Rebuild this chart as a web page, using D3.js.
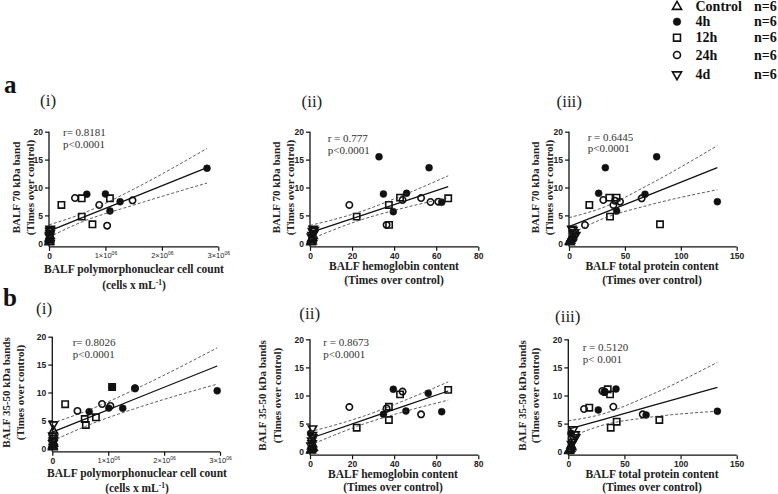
<!DOCTYPE html>
<html><head><meta charset="utf-8">
<script src="https://cdn.jsdelivr.net/npm/d3@7"></script>
<style>body{margin:0;background:#fff}</style>
</head><body>
<svg id="c" width="778" height="494"></svg>
<script>
// ---------- DATA ----------
const groups = ["Control","4h","12h","24h","4d"];
const groupN = ["n=6","n=6","n=6","n=6","n=6"];
const yTicks = [0,5,10,15,20];
const pmnTicks = [0,1e6,2e6,3e6];
const hbTicks = [0,20,40,60,80];
const protTicks = [0,50,100,150];

// points: [group, x, y]
const ptsA1 = [
 ["4h",0.67e6,8.8],["4h",1.0e6,8.85],["4h",1.26e6,7.45],["4h",1.08e6,5.8],["4h",2.8e6,13.45],
 ["12h",0.22e6,6.87],["12h",0.58e6,8.06],["12h",0.58e6,4.78],["12h",0.77e6,3.4],["12h",1.08e6,8.06],
 ["24h",0.46e6,8.12],["24h",0.89e6,6.87],["24h",1.03e6,3.16],["24h",1.48e6,7.7],
 ["Control",0.01e6,0.3],["Control",0.01e6,0.6],["Control",0.015e6,1.0],["Control",0.005e6,0.2],["Control",0.02e6,1.3],["Control",0.01e6,0.8],
 ["4d",0.02e6,2.6],["4d",0.015e6,2.2],["4d",0.02e6,1.8],["4d",0.01e6,1.5],["4d",0.025e6,2.4],["4d",0.01e6,1.2]
];
const ptsA2 = [
 ["4h",32.8,15.5],["4h",56.6,13.55],["4h",34.9,8.84],["4h",45.9,8.96],["4h",39.6,5.67],["4h",62.6,7.34],
 ["12h",22.2,4.78],["12h",37.5,6.87],["12h",42.8,8.18],["12h",65.7,8.06],["12h",37.6,3.3],
 ["24h",18.7,6.87],["24h",44,7.76],["24h",52.8,8.12],["24h",57.3,7.4],["24h",61,7.46],["24h",36.4,3.3],
 ["Control",1,0.3],["Control",0.8,0.6],["Control",1.2,1.0],["Control",0.5,0.2],["Control",1.5,1.3],["Control",0.9,0.8],
 ["4d",1.5,2.6],["4d",1.2,2.2],["4d",1.8,1.8],["4d",1,1.5],["4d",2,2.4],["4d",0.7,1.2]
];
const ptsA3 = [
 ["4h",32.5,13.55],["4h",78.4,15.5],["4h",26.5,8.96],["4h",68,8.78],["4h",42.6,5.8],["4h",132.7,7.46],
 ["12h",18.2,6.87],["12h",36,8.18],["12h",42.6,8.18],["12h",36.7,4.78],["12h",81.4,3.4],
 ["24h",14.3,3.28],["24h",30.7,7.76],["24h",39.7,6.87],["24h",41.2,7.64],["24h",45.6,7.46],["24h",65,8.06],
 ["Control",1,0.2],["Control",1.5,0.5],["Control",2,0.8],["Control",2.5,1.0],["Control",0.5,0.3],["Control",3,1.2],
 ["4d",4,1.7],["4d",5,2.0],["4d",3.5,2.4],["4d",6,1.5],["4d",2.5,2.6],["4d",4.5,1.3]
];
const ptsB1 = [
 ["4h",0.66e6,6.56],["4h",1.01e6,7.2],["4h",1.26e6,7.17],["4h",1.07e6,11.0],["4h",2.95e6,10.3],["4h",1.48e6,10.75],
 ["12h",0.23e6,7.9],["12h",0.58e6,5.25],["12h",0.6e6,4.18],["12h",0.78e6,5.55],["12h",1.07e6,11.0],
 ["24h",0.45e6,6.7],["24h",0.89e6,7.94],["24h",1.04e6,7.6],["24h",1.48e6,10.75],
 ["Control",0.02e6,3.1],["Control",0.01e6,0.2],["Control",0.01e6,0.5],["Control",0.02e6,0.8],["Control",0.015e6,1.1],["Control",0.01e6,0.3],
 ["4d",0.02e6,4.3],["4d",0.02e6,1.9],["4d",0.01e6,2.3],["4d",0.02e6,1.5],["4d",0.01e6,0.9],["4d",0.015e6,1.2]
];
const ptsB2 = [
 ["4h",39.6,11.1],["4h",56.2,10.4],["4h",45.6,7.24],["4h",62.6,7.12],["4h",34.9,6.65],["4h",0.3,3.26],
 ["12h",42.8,10.2],["12h",65.7,11.0],["12h",37.5,8.0],["12h",37.5,5.64],["12h",22.2,4.27],
 ["24h",18.7,7.95],["24h",44,10.7],["24h",52.8,6.65],["24h",36.4,7.7],
 ["Control",0.5,0.2],["Control",1,0.5],["Control",0.8,0.9],["Control",1.2,1.3],["Control",0.6,0.3],["Control",1.5,0.7],
 ["4d",1.2,4.15],["4d",0.8,2.0],["4d",1,1.5],["4d",1.3,2.6],["4d",0.5,1.1],["4d",1.1,3.0]
];
const ptsB3 = [
 ["4h",26.7,7.42],["4h",42.5,11.15],["4h",69.3,6.53],["4h",132.8,7.2],["4h",2.4,3.27],["4h",32.5,10.7],
 ["12h",18.7,7.83],["12h",35.1,11.1],["12h",37.2,10.2],["12h",37.8,4.27],["12h",43.1,5.34],["12h",81.1,5.64],
 ["24h",14,7.6],["24h",30.3,10.8],["24h",32.1,10.6],["24h",40.1,8.0],["24h",66.3,6.65],
 ["Control",1,0.2],["Control",2,0.5],["Control",3,0.8],["Control",1.5,0.4],["Control",2.5,1.1],["Control",0.5,0.1],
 ["4d",4.5,4.0],["4d",6,3.1],["4d",5,2.3],["4d",4,1.8],["4d",3,1.4],["4d",6.5,2.6]
];

// regression line and 95% band, read at a few x positions
const bandA1X = [0,0.6e6,1.5e6,2.8e6], fitA1 = [2.2,4.63,8.28,13.55], upA1 = [3.3,5.36,9.71,17.0], loA1 = [1.1,3.9,6.85,10.8];
const bandA2X = [0,24,45,65.7], fitA2 = [1.91,4.92,7.55,10.15], upA2 = [3.2,5.67,8.73,12.1], loA2 = [0.7,4.17,6.37,8.2];
const bandA3X = [0,30,70,132.7], fitA3 = [2.99,5.38,8.56,13.55], upA3 = [4.6,6.38,10.35,17.5], loA3 = [1.5,4.38,6.77,9.6];
const bandB1X = [0,0.65e6,1.6e6,2.95e6], fitB1 = [2.9,5.51,9.33,14.75], upB1 = [4.5,6.85,11.15,18.0], loB1 = [1.3,4.17,7.51,11.5];
const bandB2X = [0,26,45,65.7], fitB2 = [2.35,5.69,8.14,10.8], upB2 = [3.54,6.39,9.13,12.43], loB2 = [1.16,4.99,7.15,9.17];
const bandB3X = [0,30,70,132.8], fitB3 = [4.0,5.68,7.93,11.45], upB3 = [5.5,6.68,9.8,15.9], loB3 = [2.45,4.68,6.06,7.2];

const statsR = ["r= 0.8181","r = 0.777","r = 0.6445","r= 0.8026","r = 0.8673","r = 0.5120"];
const statsP = ["p<0.0001","p<0.0001","p<0.0001","p<0.0001","p<0.0001","p< 0.001"];

// ---------- LAYOUT ----------
const serif = "'Liberation Serif','Times New Roman',serif";
const sans = "'Liberation Sans',Arial,sans-serif";
const svg = d3.select("#c");

const panels = [
 {pts:ptsA1,bx:bandA1X,fit:fitA1,up:upA1,lo:loA1,xmax:3e6,xt:pmnTicks,pmn:true,
  x0:49,x1:218.3,y0:243.3,y1:131.7,
  yl:["BALF 70 kDa band","(Times over control)"],ylx:[19.5,34],
  xl:["BALF polymorphonuclear cell count","(cells x mL-1)"],xlc:134,xly:[273,289],
  num:"(i)",numx:40,numy:106,sx:63,sy:[135.5,147.5]},
 {pts:ptsA2,bx:bandA2X,fit:fitA2,up:upA2,lo:loA2,xmax:80,xt:hbTicks,
  x0:310,x1:478.3,y0:243.3,y1:131.7,
  yl:["BALF 70 kDa band","(Times over control)"],ylx:[279.5,293.5],
  xl:["BALF hemoglobin content","(Times over control)"],xlc:394,xly:[270,284],
  num:"(ii)",numx:301.5,numy:107,sx:327.7,sy:[142,154]},
 {pts:ptsA3,bx:bandA3X,fit:fitA3,up:upA3,lo:loA3,xmax:150,xt:protTicks,
  x0:569,x1:736.7,y0:243.3,y1:131.7,
  yl:["BALF 70 kDa band","(Times over control)"],ylx:[539,552.5],
  xl:["BALF total protein content","(Times over control)"],xlc:652,xly:[270,284],
  num:"(iii)",numx:556.5,numy:107,sx:587.7,sy:[140.5,152]},
 {pts:ptsB1,bx:bandB1X,fit:fitB1,up:upB1,lo:loB1,xmax:3e6,xt:pmnTicks,pmn:true,
  x0:52.3,x1:220,y0:448.3,y1:336.7,
  yl:["BALF 35-50 kDa bands","(Times over control)"],ylx:[10,24],
  xl:["BALF polymorphonuclear cell count","(cells x mL-1)"],xlc:137,xly:[477,492],
  num:"(i)",numx:36,numy:314,sx:72.7,sy:[345.5,358]},
 {pts:ptsB2,bx:bandB2X,fit:fitB2,up:upB2,lo:loB2,xmax:80,xt:hbTicks,
  x0:310,x1:478.3,y0:451.7,y1:339.3,
  yl:["BALF 35-50 kDa bands","(Times over control)"],ylx:[266,280.5],
  xl:["BALF hemoglobin content","(Times over control)"],xlc:393,xly:[478,491],
  num:"(ii)",numx:299.3,numy:319,sx:323.3,sy:[345.5,358]},
 {pts:ptsB3,bx:bandB3X,fit:fitB3,up:upB3,lo:loB3,xmax:150,xt:protTicks,
  x0:568.3,x1:736.7,y0:451.7,y1:339.3,
  yl:["BALF 35-50 kDa bands","(Times over control)"],ylx:[526,539],
  xl:["BALF total protein content","(Times over control)"],xlc:652,xly:[478,491],
  num:"(iii)",numx:555,numy:322,sx:582.7,sy:[350.5,363]}
];

function marker(sel, g, s) {
  s = s || 1;
  const isTri = g === "Control" || g === "4d";
  const type = g === "12h" ? d3.symbolSquare : (isTri ? d3.symbolTriangle : d3.symbolCircle);
  const size = (g === "12h" ? 40 : isTri ? 30 : (g === "4h" ? 38 : 32)) * s;
  sel.append("path")
    .attr("d", d3.symbol().type(type).size(size)())
    .attr("transform", (sel.attr ? "" : "") + (g === "4d" ? "rotate(180)" : ""))
    .attr("fill", g === "4h" ? "#111" : "none")
    .attr("stroke", "#111")
    .attr("stroke-width", g === "4h" ? 0.5 : 1.6);
}

panels.forEach((p, i) => {
  const x = d3.scaleLinear().domain([0, p.xmax]).range([p.x0, p.x1]);
  const y = d3.scaleLinear().domain([0, 20]).range([p.y0, p.y1]);
  const g = svg.append("g");
  const axY = p.y0 + 3.5;

  // y axis
  const ya = g.append("g").attr("transform", `translate(${p.x0},0)`)
    .call(d3.axisLeft(y).tickValues(yTicks).tickSize(4).tickPadding(2));
  ya.select(".domain").remove();
  ya.selectAll("line").attr("stroke","#111").attr("stroke-width",1.2);
  ya.selectAll("text").attr("font-family", sans).attr("font-weight","bold").attr("font-size",8.5).attr("fill","#222");
  g.append("line").attr("x1",p.x0).attr("x2",p.x0).attr("y1",y(20)).attr("y2",axY)
    .attr("stroke","#111").attr("stroke-width",1.3);

  // x axis
  const xa = g.append("g").attr("transform", `translate(0,${axY})`)
    .call(d3.axisBottom(x).tickValues(p.xt).tickSize(4).tickPadding(2).tickFormat(d => p.pmn ? (d===0?"0":"") : d));
  xa.select(".domain").remove();
  xa.selectAll("line").attr("stroke","#111").attr("stroke-width",1.2);
  xa.selectAll("text").attr("font-family", sans).attr("font-weight","bold").attr("font-size",8.5).attr("fill","#222");
  if (p.pmn) {
    xa.selectAll(".tick text").each(function(d) {
      if (d > 0) {
        const t = d3.select(this).attr("font-weight","normal").attr("font-size",7.5);
        t.append("tspan").text((d/1e6) + "\u00d710");
        t.append("tspan").attr("dy",-3).attr("font-size",5).text("06");
      }
    });
  }
  g.append("line").attr("x1",p.x0).attr("x2",x(p.xmax)).attr("y1",axY).attr("y2",axY)
    .attr("stroke","#111").attr("stroke-width",1.3);

  // points
  p.pts.forEach(d => {
    const m = g.append("g").attr("transform", `translate(${x(d[1])},${y(d[2])})`);
    marker(m, d[0]);
  });

  // regression line and band
  const fitData = p.bx.map((v,k)=>[v,p.fit[k]]);
  const upData = p.bx.map((v,k)=>[v,p.up[k]]);
  const loData = p.bx.map((v,k)=>[v,p.lo[k]]);
  const ln = d3.line().x(d=>x(d[0])).y(d=>y(d[1]));
  const lc = d3.line().x(d=>x(d[0])).y(d=>y(d[1])).curve(d3.curveMonotoneX);
  g.append("path").attr("d", ln(fitData)).attr("fill","none").attr("stroke","#111").attr("stroke-width",1.3);
  [upData, loData].forEach(dd => g.append("path").attr("d", lc(dd)).attr("fill","none")
    .attr("stroke","#333").attr("stroke-width",0.8).attr("stroke-dasharray","3,2"));

  // stats text
  g.append("text").attr("x",p.sx).attr("y",p.sy[0]).attr("font-family",serif).attr("font-size",11).attr("fill","#333").text(statsR[i]);
  g.append("text").attr("x",p.sx).attr("y",p.sy[1]).attr("font-family",serif).attr("font-size",11).attr("fill","#333").text(statsP[i]);

  // y title
  const cy = (p.y0 + p.y1) / 2;
  p.yl.forEach((t,k) => {
    g.append("text").attr("transform",`translate(${p.ylx[k]},${cy}) rotate(-90)`)
      .attr("text-anchor","middle").attr("font-family",serif).attr("font-weight","bold")
      .attr("font-size",11).attr("fill","#222").text(t);
  });
  // x title
  g.append("text").attr("x",p.xlc).attr("y",p.xly[0]).attr("text-anchor","middle")
    .attr("font-family",serif).attr("font-weight","bold").attr("font-size",11.5).attr("fill","#222").text(p.xl[0]);
  const t2 = g.append("text").attr("x",p.xlc).attr("y",p.xly[1]).attr("text-anchor","middle")
    .attr("font-family",serif).attr("font-weight","bold").attr("font-size",11.5).attr("fill","#222");
  if (p.pmn) {
    t2.append("tspan").text("(cells x mL");
    t2.append("tspan").attr("dy",-4).attr("font-size",7.5).text("-1");
    t2.append("tspan").attr("dy",4).text(")");
  } else t2.text(p.xl[1]);

  // panel number
  g.append("text").attr("x",p.numx).attr("y",p.numy).attr("font-family",serif).attr("font-size",17).attr("fill","#222").text(p.num);
});

// row letters
svg.append("text").attr("x",4).attr("y",93).attr("font-family",serif).attr("font-weight","bold").attr("font-size",25).attr("fill","#111").text("a");
svg.append("text").attr("x",3).attr("y",306).attr("font-family",serif).attr("font-weight","bold").attr("font-size",25).attr("fill","#111").text("b");

// legend
const legY = [6.7, 21.7, 37.7, 55, 74.5];
groups.forEach((gname, k) => {
  const m = svg.append("g").attr("transform", `translate(677,${legY[k]})`);
  marker(m, gname, 1.2);
  svg.append("text").attr("x", 695.5).attr("y", legY[k] + 4.5).attr("font-family",serif).attr("font-weight","bold")
    .attr("font-size",14).attr("fill","#111").text(gname);
  svg.append("text").attr("x", 754).attr("y", legY[k] + 4.5).attr("font-family",serif).attr("font-weight","bold")
    .attr("font-size",14).attr("fill","#111").text(groupN[k]);
});
</script>
</body></html>
